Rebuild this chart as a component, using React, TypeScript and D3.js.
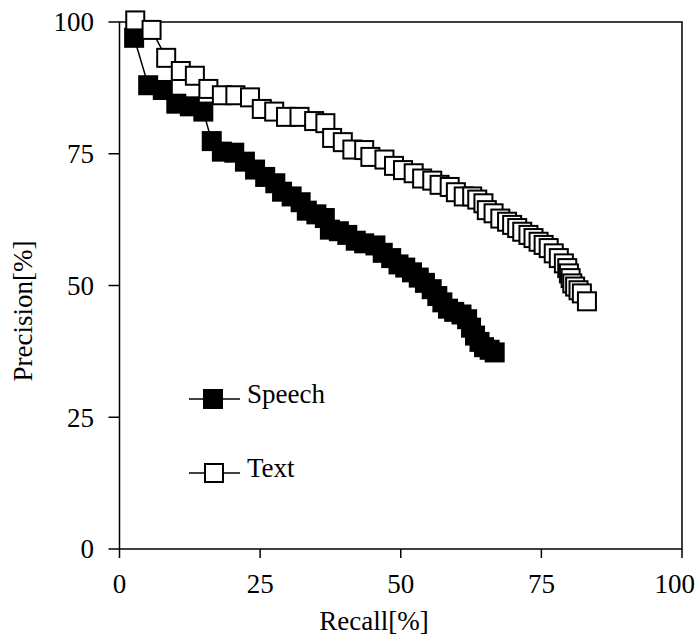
import React from 'react';
import * as d3 from 'd3';

// recall / precision pairs
const speechRecall = [2.6, 5.1, 7.7, 10.1, 12.5, 14.9, 16.4, 18.2, 20.4, 22.3, 24.1, 25.9, 27.7, 28.9, 30.6, 32.2, 33.3, 35, 36.5, 37.4, 39, 40.5, 42, 43.5, 45.5, 46.8, 48.3, 49.6, 50.8, 52, 53.2, 54.3, 55.5, 56.5, 57.4, 58.4, 59.5, 60.8, 61.8, 62.5, 63.2, 64, 64.8, 65.8, 66.7];
const speechPrecision = [97, 88, 87.1, 84.5, 84, 83, 77.4, 75.4, 75.2, 73.5, 72, 70.6, 69.4, 67.8, 66.9, 65.8, 64.2, 63.5, 62.8, 60.6, 60.3, 59.6, 58.5, 58, 57.6, 56.2, 55.2, 54, 53.4, 52.5, 51.5, 50.5, 49.3, 48, 46.8, 45.6, 45, 44.5, 43.6, 42, 40.5, 39.3, 38.3, 37.8, 37.3];

const textRecall = [2.8, 5.7, 8.3, 10.9, 13.4, 15.8, 18.2, 20.6, 23.2, 25.3, 27.5, 29.6, 32, 34.6, 36.6, 37.8, 39.7, 41.4, 43.5, 44.6, 47.1, 48.8, 50.4, 52.3, 53.8, 55.6, 56.9, 58.7, 59.8, 61.2, 62.7, 63.6, 64.7, 65.3, 66.5, 67.7, 68.9, 69.8, 70.7, 71.6, 72.7, 73.6, 74.5, 75.4, 76.3, 77.2, 78.1, 79, 79.6, 79.9, 80.2, 80.5, 81, 81.6, 82.2, 83.1];
const textPrecision = [100.3, 98.5, 93.2, 90.7, 89.8, 87.3, 86.1, 86.1, 85.7, 83.5, 83, 82, 82, 81.2, 80.8, 78, 77.2, 75.8, 75.7, 74.4, 73.9, 72.7, 71.9, 71.3, 70.3, 69.9, 69.1, 68.7, 67.7, 66.9, 66.9, 66.3, 65.6, 64.3, 63.7, 62.7, 62.1, 61.5, 60.9, 60.2, 59.6, 59, 58.3, 57.7, 57.1, 56.1, 55.2, 54.2, 53.3, 52.3, 51.4, 50.4, 49.8, 49.1, 48.5, 47];

const xTicks = [0, 25, 50, 75, 100];
const yTicks = [0, 25, 50, 75, 100];

const W = 696;
const H = 637;
const font = '"Liberation Serif", "Times New Roman", serif';

export default function App() {
  const x = d3.scaleLinear().domain([0, 100]).range([119.5, 682]);
  const y = d3.scaleLinear().domain([0, 100]).range([549, 22]);
  const sqS = 20;
  const sqT = 18;

  const speech = speechRecall.map((r, i) => [r, speechPrecision[i]] as [number, number]);
  const text = textRecall.map((r, i) => [r, textPrecision[i]] as [number, number]);

  const line = d3.line<[number, number]>().x(d => x(d[0])).y(d => y(d[1]));

  return (
    <svg width={W} height={H} style={{ position: 'absolute', left: 0, top: 0, background: '#fff' }} fontFamily={font}>
      {/* frame */}
      <rect x={x(0)} y={y(100)} width={x(100) - x(0)} height={y(0) - y(100)} fill="none" stroke="#000" strokeWidth={1.5} />

      {yTicks.map(t => (
        <g key={'y' + t}>
          <line x1={x(0) - 11} x2={x(0)} y1={y(t)} y2={y(t)} stroke="#000" strokeWidth={1.5} />
          <text x={94} y={y(t)} dy="0.35em" textAnchor="end" fontSize={27}>{t}</text>
        </g>
      ))}
      {xTicks.map(t => (
        <g key={'x' + t}>
          <line x1={x(t)} x2={x(t)} y1={y(0)} y2={y(0) + 9} stroke="#000" strokeWidth={1.5} />
          <text x={t === 100 ? W - 1 : x(t)} y={593} textAnchor={t === 100 ? 'end' : 'middle'} fontSize={27}>{t}</text>
        </g>
      ))}

      <text x={374} y={630} textAnchor="middle" fontSize={27}>Recall[%]</text>
      <text transform="translate(32,311) rotate(-90)" textAnchor="middle" fontSize={27}>Precision[%]</text>

      {/* speech series */}
      <path d={line(speech) ?? ''} fill="none" stroke="#000" strokeWidth={1.5} />
      {speech.map((d, i) => (
        <rect key={'s' + i} x={x(d[0]) - sqS / 2} y={y(d[1]) - sqS / 2} width={sqS} height={sqS} fill="#000" />
      ))}

      {/* text series */}
      <path d={line(text) ?? ''} fill="none" stroke="#000" strokeWidth={1.5} />
      {text.map((d, i) => (
        <rect key={'t' + i} x={x(d[0]) - sqT / 2} y={y(d[1]) - sqT / 2} width={sqT} height={sqT} fill="#fff" stroke="#000" strokeWidth={2} />
      ))}

      {/* legend */}
      <line x1={189} x2={240} y1={399} y2={399} stroke="#000" strokeWidth={1.5} />
      <rect x={213 - sqS / 2} y={399 - sqS / 2} width={sqS} height={sqS} fill="#000" />
      <text x={247} y={403} fontSize={27}>Speech</text>

      <line x1={189} x2={240} y1={473} y2={473} stroke="#000" strokeWidth={1.5} />
      <rect x={214 - sqT / 2} y={473 - sqT / 2} width={sqT} height={sqT} fill="#fff" stroke="#000" strokeWidth={2} />
      <text x={247} y={477} fontSize={27}>Text</text>
    </svg>
  );
}
